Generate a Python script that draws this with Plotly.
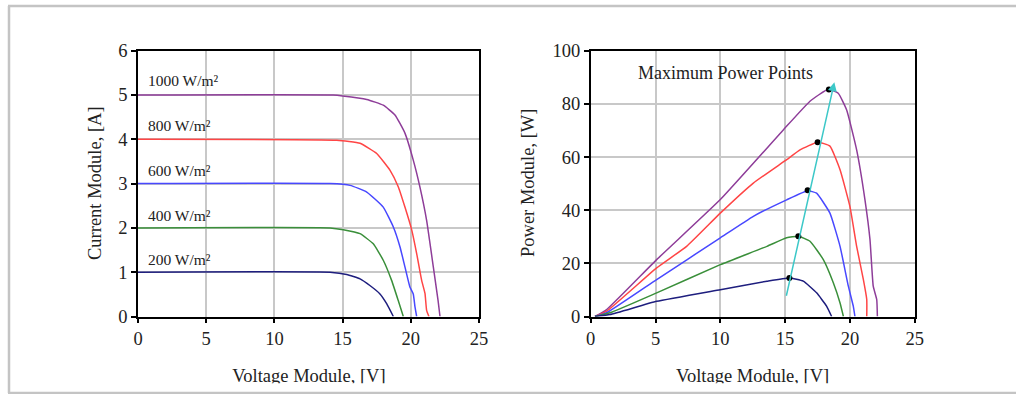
import plotly.graph_objects as go

W, H = 1016, 394

# ---------------- data ----------------
irradiance_labels = ["1000 W/m²", "800 W/m²", "600 W/m²", "400 W/m²", "200 W/m²"]
colors = ["#8E3D99", "#FF4545", "#4848FF", "#3A8F3A", "#1E1E7E"]

# I-V curves (Voltage [V], Current [A])
iv_v_1000 = [0, 14.3, 15.0, 16.77, 17.98, 18.84, 19.57, 20.18, 20.67, 21.16, 21.65, 22.0, 22.14]
iv_i_1000 = [5.0, 5.0, 4.98, 4.9, 4.77, 4.55, 4.14, 3.53, 2.92, 2.17, 1.12, 0.36, 0.0]
iv_v_800 = [0, 14.57, 16.28, 17.5, 18.48, 19.08, 19.57, 20.07, 20.43, 20.8, 21.04, 21.16, 21.33]
iv_i_800 = [4.0, 3.98, 3.91, 3.68, 3.30, 2.93, 2.47, 1.95, 1.42, 0.81, 0.52, 0.14, 0.0]
iv_v_600 = [0, 14.08, 15.55, 16.77, 17.98, 18.72, 19.21, 19.57, 19.94, 20.18, 20.31, 20.43]
iv_i_600 = [3.0, 3.0, 2.96, 2.81, 2.47, 2.02, 1.57, 1.12, 0.66, 0.51, 0.21, 0.0]
iv_v_400 = [0, 14.08, 15.05, 16.28, 17.25, 17.98, 18.6, 19.08, 19.45]
iv_i_400 = [2.0, 2.0, 1.96, 1.87, 1.64, 1.27, 0.81, 0.36, 0.0]
iv_v_200 = [0, 14.08, 15.3, 16.28, 17.0, 17.74, 18.23, 18.72]
iv_i_200 = [1.0, 1.0, 0.95, 0.85, 0.70, 0.51, 0.29, 0.0]

# P-V curves (Voltage [V], Power [W])
pv_v_1000 = [0.33, 1.23, 5.09, 10.0, 14.86, 16.92, 18.33, 19.1, 19.75, 20.52, 21.16, 21.55, 21.8, 22.07, 22.12]
pv_p_1000 = [0.0, 2.6, 21.4, 44.0, 70.2, 81.0, 85.5, 84.0, 77.7, 62.7, 44.0, 28.9, 11.4, 6.4, 0.0]
pv_v_800 = [0.33, 1.23, 5.09, 7.4, 10.0, 12.55, 15.12, 16.15, 17.51, 18.46, 19.24, 20.0, 20.52, 21.04, 21.3, 21.3]
pv_p_800 = [0.0, 2.0, 18.3, 26.4, 38.9, 50.2, 59.0, 62.7, 65.6, 64.1, 55.2, 41.4, 26.4, 13.9, 6.4, 0.0]
pv_v_600 = [0.33, 1.23, 5.09, 10.0, 12.55, 15.12, 16.74, 17.43, 18.46, 19.24, 19.88, 20.26, 20.39]
pv_p_600 = [0.0, 1.4, 13.9, 29.6, 37.7, 43.9, 47.3, 46.4, 38.9, 26.4, 11.4, 3.9, 0.0]
pv_v_400 = [0.33, 1.49, 5.09, 10.0, 13.6, 15.12, 16.02, 16.92, 17.95, 18.72, 19.24, 19.5]
pv_p_400 = [0.0, 1.4, 8.9, 19.5, 26.4, 29.6, 30.2, 28.3, 21.4, 12.7, 5.1, 0.0]
pv_v_200 = [0.33, 1.49, 5.09, 10.0, 13.6, 15.33, 16.4, 17.43, 18.2, 18.59]
pv_p_200 = [0.0, 0.75, 5.7, 10.1, 13.3, 14.5, 13.3, 8.9, 3.9, 0.0]

# Maximum power points
mpp_v = [18.38, 17.51, 16.74, 16.02, 15.33]
mpp_p = [85.4, 65.6, 47.5, 30.2, 14.5]

# arrow through the MPPs (tail -> head)
arrow_v = [15.07, 18.8]
arrow_p = [7.25, 88.1]

# label positions for irradiance text on the I-V chart
label_v = 0.55
label_i = [5.32, 4.32, 3.30, 2.27, 1.29]

x_ticks = [0, 5, 10, 15, 20, 25]
i_ticks = [0, 1, 2, 3, 4, 5, 6]
p_ticks = [0, 20, 40, 60, 80, 100]

iv_sets = [(iv_v_1000, iv_i_1000), (iv_v_800, iv_i_800), (iv_v_600, iv_i_600),
           (iv_v_400, iv_i_400), (iv_v_200, iv_i_200)]
pv_sets = [(pv_v_1000, pv_p_1000), (pv_v_800, pv_p_800), (pv_v_600, pv_p_600),
           (pv_v_400, pv_p_400), (pv_v_200, pv_p_200)]

FONT = "Liberation Serif"

fig = go.Figure()

for (v, i), c, name in zip(iv_sets, colors, irradiance_labels):
    fig.add_trace(go.Scatter(x=v, y=i, mode="lines", line=dict(color=c, width=1.5, shape="spline", smoothing=0.4),
                             name=name, xaxis="x", yaxis="y", showlegend=False))

for (v, p), c, name in zip(pv_sets, colors, irradiance_labels):
    fig.add_trace(go.Scatter(x=v, y=p, mode="lines", line=dict(color=c, width=1.5, shape="spline", smoothing=0.4),
                             name=name, xaxis="x2", yaxis="y2", showlegend=False))

fig.add_trace(go.Scatter(x=mpp_v, y=mpp_p, mode="markers", marker=dict(color="black", size=6),
                         xaxis="x2", yaxis="y2", showlegend=False))

# clipped x-axis titles (cut off at the bottom as in the reference)
fig.add_trace(go.Scatter(x=[309 / W, 752.6 / W], y=[0.2, 0.2], mode="text",
                         text=["Voltage Module, [V]", "Voltage Module, [V]"],
                         textfont=dict(family=FONT, size=18.5, color="#222"),
                         textposition="middle center", cliponaxis=True,
                         xaxis="x3", yaxis="y3", showlegend=False, hoverinfo="skip"))

ydom = [1 - 316.5 / H, 1 - 50.7 / H]
axis_common = dict(showline=True, mirror=True, linecolor="black", linewidth=1.5,
                   ticks="outside", ticklen=5, tickcolor="black", tickwidth=1.5,
                   showgrid=True, gridcolor="#c8c8c8", gridwidth=1.5, zeroline=False,
                   tickfont=dict(family=FONT, size=18.5, color="#222"))

fig.update_layout(
    width=W, height=H, margin=dict(l=0, r=0, t=0, b=0, autoexpand=False),
    paper_bgcolor="white", plot_bgcolor="white", showlegend=False,
    font=dict(family=FONT),
    xaxis=dict(domain=[138 / W, 479 / W], range=[0, 25], tickvals=x_ticks, anchor="y", **axis_common),
    yaxis=dict(domain=ydom, range=[0, 6], tickvals=i_ticks, anchor="x", **axis_common),
    xaxis2=dict(domain=[590.7 / W, 914.7 / W], range=[0, 25], tickvals=x_ticks, anchor="y2", **axis_common),
    yaxis2=dict(domain=ydom, range=[0, 100], tickvals=p_ticks, anchor="x2", **axis_common),
    xaxis3=dict(domain=[0, 1], range=[0, 1], visible=False, fixedrange=True, anchor="y3"),
    yaxis3=dict(domain=[1 - 383.3 / H, 1 - 355 / H], range=[0, 1], visible=False, fixedrange=True, anchor="x3"),
)

annotations = []
for txt, yi in zip(irradiance_labels, label_i):
    annotations.append(dict(x=label_v, y=yi, xref="x", yref="y", text=txt, showarrow=False,
                            xanchor="left", yanchor="middle",
                            font=dict(family=FONT, size=15.5, color="#222")))
annotations.append(dict(x=3.5, y=91.7, xref="x2", yref="y2", text="Maximum Power Points", showarrow=False,
                        xanchor="left", yanchor="middle", font=dict(family=FONT, size=18, color="#222")))
annotations.append(dict(x=arrow_v[1], y=arrow_p[1], ax=arrow_v[0], ay=arrow_p[0], xref="x2", yref="y2",
                        axref="x2", ayref="y2", text="", showarrow=True, arrowhead=2, arrowsize=1.2,
                        arrowwidth=1.5, arrowcolor="#3CC8C8", standoff=0, startstandoff=0))
annotations.append(dict(x=95 / W, y=1 - 183 / H, xref="paper", yref="paper", text="Current Module, [A]",
                        textangle=-90, showarrow=False, xanchor="center", yanchor="middle",
                        font=dict(family=FONT, size=18.5, color="#222")))
annotations.append(dict(x=528 / W, y=1 - 183 / H, xref="paper", yref="paper", text="Power Module, [W]",
                        textangle=-90, showarrow=False, xanchor="center", yanchor="middle",
                        font=dict(family=FONT, size=18.5, color="#222")))
fig.update_layout(annotations=annotations)

# outer gray frame (top, left, bottom)
frame = dict(type="line", xref="paper", yref="paper", line=dict(color="#c4c4c4", width=2.5))
fig.update_layout(shapes=[
    dict(frame, x0=8 / W, x1=1, y0=1 - 6 / H, y1=1 - 6 / H),
    dict(frame, x0=9 / W, x1=9 / W, y0=1 - 6 / H, y1=1 - 393 / H),
    dict(frame, x0=8 / W, x1=1, y0=1 - 393 / H, y1=1 - 393 / H),
])

fig.write_html("out.html", config={"displayModeBar": False},
               post_script="document.body.style.margin='0';document.body.style.overflow='hidden';")
